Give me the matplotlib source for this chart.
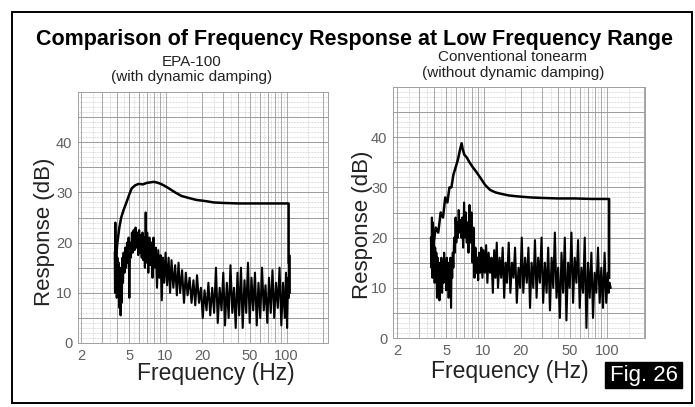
import matplotlib.pyplot as plt
from matplotlib.patches import Rectangle

plt.rcParams['font.family'] = ['Liberation Sans', 'DejaVu Sans']

freq_ticks = [2, 5, 10, 20, 50, 100]
db_ticks = [0, 10, 20, 30, 40]

# EPA-100 (with dynamic damping): smooth upper trace
epa_top_f = [3.9, 4.0, 4.15, 4.3, 4.5, 4.75, 5.0, 5.25, 5.6, 6.0, 6.5, 7.0, 7.5, 8.0,
             8.7, 9.5, 10.5, 12.0, 13.5, 15.5, 18, 21, 25, 30, 40, 60, 80, 104, 104]
epa_top_db = [17, 20, 23, 25, 26.5, 28, 29.5, 30.8, 31.4, 31.7, 31.6, 31.9, 32.0, 32.1,
              31.9, 31.5, 30.9, 30.0, 29.3, 28.9, 28.5, 28.3, 28.0, 27.9, 27.8, 27.8, 27.8, 27.8, 16]

# EPA-100: noisy lower trace
epa_low_f = [3.80, 3.82, 3.85, 3.88, 3.92, 3.95, 4.00, 4.05, 4.10, 4.15, 4.20, 4.25, 4.30, 4.35,
             4.40, 4.45, 4.50, 4.58, 4.65, 4.72, 4.80, 4.88, 4.95, 5.02, 5.10, 5.18, 5.27, 5.35,
             5.45, 5.55, 5.65, 5.75, 5.85, 5.95, 6.05, 6.15, 6.25, 6.35, 6.45, 6.55, 6.65, 6.75,
             6.85, 6.95, 7.05, 7.2, 7.35, 7.5, 7.65, 7.8, 7.95, 8.1, 8.3, 8.5, 8.7, 8.9, 9.1, 9.3,
             9.5, 9.75, 10.0, 10.3, 10.6, 10.9, 11.2, 11.6, 12.0, 12.4, 12.8, 13.2, 13.7, 14.2,
             14.7, 15.2, 15.8, 16.4, 17.0, 17.6, 18.2, 18.9, 19.6, 20.3, 21.0, 21.8, 22.6, 23.4,
             24.3, 25.2, 26.1, 27.0, 28.0, 29.0, 30.0, 31.0, 32.1, 33.2, 34.4, 35.6, 36.8, 38.0,
             39.3, 40.6, 42.0, 43.4, 44.9, 46.4, 48.0, 49.6, 51.3, 53.0, 54.8, 56.7, 58.6, 60.6,
             62.7, 64.8, 67.0, 69.3, 71.6, 74.0, 76.5, 79.1, 81.8, 84.6, 87.5, 90.5, 93.5, 96.7,
             99.0, 101, 103, 104.5, 105.5, 106.5]
epa_low_db = [18, 10, 24, 12, 20, 9, 17, 11, 16, 7, 15, 5.5, 14, 8,
              17, 12, 18, 14, 19, 15, 20, 16, 21, 9, 20, 17, 22, 18,
              22.5, 18.5, 23, 19, 22, 17.5, 22.5, 18, 21.5, 17, 22, 16.5, 21, 15,
              26, 16, 22, 14, 21, 15.5, 20, 13, 21, 15, 19, 11, 18.5, 13, 17.5, 8.5,
              17, 12, 18, 11.5, 17, 10, 16.5, 11, 15.5, 9.5, 16, 10, 14.5, 8,
              14, 9.5, 13, 8, 12.5, 7.5, 13.5, 8, 11, 5, 10.5, 6.5, 12, 5.5,
              11, 6, 15, 4, 11, 6.5, 14, 3.5, 12, 5, 15.5, 6, 11, 3,
              14, 5.5, 15, 3, 12.5, 6, 16, 4, 13, 6.5, 14, 3.5, 12, 5,
              15, 6.5, 11.5, 4, 13, 6, 14.5, 5, 12, 7, 15, 3.5, 12, 5,
              14, 3, 13, 9, 17.5, 10]

# Conventional tonearm (without dynamic damping): upper trace
conv_top_f = [3.9, 4.1, 4.3, 4.5, 4.7, 4.9, 5.1, 5.3, 5.5, 5.7, 5.95, 6.2, 6.45, 6.65, 6.8,
              7.0, 7.3, 7.7, 8.2, 8.8, 9.5, 10.3, 11.3, 12.5, 14, 16, 19, 24, 30, 40, 55, 75,
              104, 104]
conv_top_db = [18, 22, 21, 25, 24, 28, 27, 30, 30, 32.5, 34, 35.5, 37.5, 38.8, 37.5,
               36.5, 36, 35, 34, 33, 31.8, 30.5, 29.5, 29, 28.7, 28.4, 28.2, 28.0, 27.9, 27.8,
               27.8, 27.7, 27.7, 12]

# Conventional tonearm: noisy lower trace
conv_low_f = [3.75, 3.78, 3.82, 3.86, 3.9, 3.94, 3.98, 4.02, 4.06, 4.1, 4.15, 4.2, 4.25, 4.3,
              4.35, 4.4, 4.45, 4.5, 4.56, 4.62, 4.68, 4.74, 4.8, 4.86, 4.92, 4.98, 5.04, 5.1,
              5.16, 5.22, 5.28, 5.34, 5.4, 5.46, 5.52, 5.58, 5.64, 5.7, 5.78, 5.86, 5.94, 6.02,
              6.1, 6.2, 6.3, 6.4, 6.5, 6.6, 6.72, 6.84, 6.96, 7.08, 7.2, 7.32, 7.44, 7.56, 7.7,
              7.85, 8.0, 8.15, 8.3, 8.45, 8.6, 8.75, 8.9, 9.05, 9.2, 9.4, 9.6, 9.8, 10.0, 10.25,
              10.5, 10.75, 11.0, 11.3, 11.6, 11.9, 12.2, 12.5, 12.8, 13.1, 13.5, 13.9, 14.3, 14.7,
              15.1, 15.5, 16.0, 16.5, 17.0, 17.5, 18.0, 18.6, 19.2, 19.8, 20.4, 21.0, 21.7, 22.4,
              23.1, 23.8, 24.5, 25.3, 26.1, 26.9, 27.7, 28.6, 29.5, 30.4, 31.4, 32.4, 33.4, 34.5,
              35.6, 36.7, 37.8, 39.0, 40.2, 41.5, 42.8, 44.1, 45.5, 46.9, 48.4, 49.9, 51.5, 53.1,
              54.8, 56.5, 58.3, 60.1, 62.0, 64.0, 66.0, 68.1, 70.2, 72.4, 74.7, 77.0, 79.4, 81.9,
              84.5, 87.2, 89.9, 92.7, 95.6, 98.5, 101.5, 103, 105, 107]
conv_low_db = [20, 14, 24, 12, 23, 15, 21, 11, 18, 13, 17, 8, 16, 10,
               15, 7.5, 14, 10, 16, 9, 15, 11, 17, 12, 15, 9.5, 16, 11,
               15, 8, 14, 10, 16, 6, 15, 12, 17, 14, 20, 17, 24, 19,
               23, 20, 25.5, 21, 23.5, 20, 24, 18, 27, 20, 25, 19, 23, 17, 26.5,
               19, 25, 15, 22, 12, 18, 13, 16, 11.5, 17, 13, 18, 12, 17.5, 13,
               18.5, 11, 17, 13, 16, 9, 17.5, 12, 19, 10, 16, 12, 18, 8,
               15, 11, 19, 9, 15, 12, 18, 7, 14, 10, 20, 9, 16, 11,
               18, 6, 15, 10, 19.5, 8, 16, 11, 20, 7, 15, 9, 18, 5.5,
               16, 10, 21, 8, 14, 4, 17, 9, 20, 3.5, 15, 10, 21, 7,
               16, 11, 19.5, 6, 14, 9, 20, 2, 15, 8, 17, 4, 13, 9,
               18, 7, 14, 6, 17, 7, 13, 9, 11, 10]


def draw_panel(ax, xlim, top_f, top_db, low_f, low_db):
    ax.set_xscale('log')
    ax.set_xlim(*xlim)
    ax.set_ylim(0, 50)
    # chart-paper grid
    for d in range(1, 50):
        if d % 5 == 0:
            ax.axhline(d, color='#9a9a9a', lw=0.7, zorder=0)
        else:
            ax.axhline(d, color='#bdbdbd', lw=0.5, ls=(0, (1, 1.2)), zorder=0)
    for dec in [1, 10, 100]:
        for m in range(1, 10):
            v = m * dec
            if xlim[0] < v < xlim[1]:
                ax.axvline(v, color='#9a9a9a', lw=0.6, zorder=0)
            h = (m + 0.5) * dec
            if xlim[0] < h < xlim[1]:
                ax.axvline(h, color='#bdbdbd', lw=0.5, ls=(0, (1, 1.2)), zorder=0)
    ax.plot(low_f, low_db, color='black', lw=1.5, zorder=3)
    ax.plot(top_f, top_db, color='black', lw=1.8, zorder=4)
    ax.set_xticks(freq_ticks)
    ax.set_xticklabels([str(t) for t in freq_ticks])
    ax.minorticks_off()
    ax.set_yticks(db_ticks)
    ax.tick_params(length=0, labelsize=10.5, labelcolor='#606060', pad=4)
    for s in ax.spines.values():
        s.set_color('#a0a0a0')
        s.set_linewidth(0.7)


fig = plt.figure(figsize=(6.95, 4.07), dpi=100)

ax1 = fig.add_axes([78 / 695, 64 / 407, 250 / 695, 251 / 407])
draw_panel(ax1, (1.89, 220), epa_top_f, epa_top_db, epa_low_f, epa_low_db)

ax2 = fig.add_axes([393 / 695, 69 / 407, 252 / 695, 251 / 407])
draw_panel(ax2, (1.85, 203), conv_top_f, conv_top_db, conv_low_f, conv_low_db)

fig.text(0.51, 0.902, 'Comparison of Frequency Response at Low Frequency Range',
         ha='center', va='center', fontsize=15.5, fontweight='bold')
fig.text(0.276, 0.848, 'EPA-100', ha='center', va='center', fontsize=11, color='#222222')
fig.text(0.276, 0.811, '(with dynamic damping)', ha='center', va='center', fontsize=11, color='#222222')
fig.text(0.738, 0.860, 'Conventional tonearm', ha='center', va='center', fontsize=11, color='#222222')
fig.text(0.738, 0.821, '(without dynamic damping)', ha='center', va='center', fontsize=11, color='#222222')

fig.text(0.064, 0.43, 'Response (dB)', rotation=90, ha='center', va='center', fontsize=16, color='#222222')
fig.text(0.521, 0.447, 'Response (dB)', rotation=90, ha='center', va='center', fontsize=16, color='#222222')
fig.text(0.311, 0.083, 'Frequency (Hz)', ha='center', va='center', fontsize=16.5, color='#222222')
fig.text(0.734, 0.086, 'Frequency (Hz)', ha='center', va='center', fontsize=16.5, color='#222222')

fig.add_artist(Rectangle((605 / 695, 19 / 407), 77 / 695, 26 / 407, transform=fig.transFigure,
                         facecolor='black', edgecolor='black'))
fig.text(643.5 / 695, 32 / 407, 'Fig. 26', ha='center', va='center', fontsize=16, color='white')

fig.add_artist(Rectangle((12 / 695, 4 / 407), 680 / 695, 391 / 407, transform=fig.transFigure,
                         fill=False, edgecolor='black', lw=1.4))

fig.savefig('out.png', dpi=100)
